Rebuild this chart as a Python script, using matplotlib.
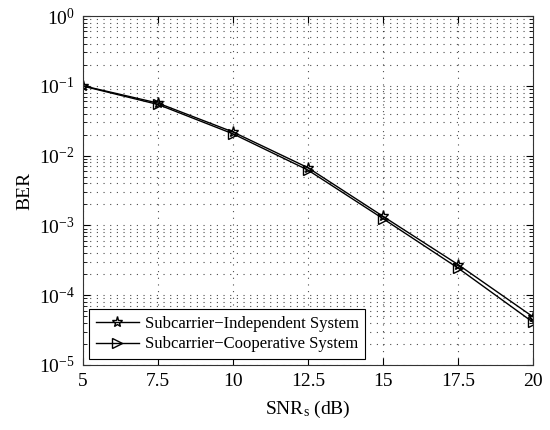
import numpy as np
import matplotlib
matplotlib.use('Agg')
import matplotlib.pyplot as plt
from matplotlib import rcParams
from matplotlib.ticker import LogLocator, NullFormatter

rcParams['font.family'] = 'serif'
rcParams['font.serif'] = ['Liberation Serif', 'DejaVu Serif']
rcParams['mathtext.fontset'] = 'custom'
rcParams['mathtext.rm'] = 'Liberation Serif'
rcParams['mathtext.it'] = 'Liberation Serif:italic'
rcParams['mathtext.default'] = 'regular'
rcParams['font.size'] = 14

# SNR points (dB) and BER for both systems
snr = [5, 7.5, 10, 12.5, 15, 17.5, 20]
ber_indep = [0.100, 0.0565, 0.0218, 0.0067, 0.00135, 2.75e-4, 4.9e-5]
ber_coop = [0.099, 0.0540, 0.0205, 0.0062, 0.00125, 2.45e-4, 4.1e-5]
labels = ['Subcarrier\u2212Independent System', 'Subcarrier\u2212Cooperative System']
xticks = [5, 7.5, 10, 12.5, 15, 17.5, 20]

fig = plt.figure(figsize=(5.5, 4.3), dpi=100)
ax = fig.add_axes([83/550, 1-365/430, 450/550, 349/430])

ax.semilogy(snr, ber_indep, '-', marker='*', color='k', lw=1.0, ms=8,
            mfc='none', mew=1.0, label=labels[0])
ax.semilogy(snr, ber_coop, '-', marker='>', color='k', lw=1.0, ms=7,
            mfc='none', mew=1.0, label=labels[1])

ax.set_xlim(5, 20)
ax.set_ylim(1e-5, 1)
ax.set_xticks(xticks)
ax.set_xticklabels(['5', '7.5', '10', '12.5', '15', '17.5', '20'])
ax.yaxis.set_major_locator(LogLocator(base=10, numticks=10))
ax.yaxis.set_minor_locator(LogLocator(base=10, subs=np.arange(2, 10), numticks=20))
ax.yaxis.set_minor_formatter(NullFormatter())

dots = (0, (1, 5))
ax.grid(True, which='major', axis='both', linestyle=dots, color='k', lw=0.8, alpha=0.7)
ax.grid(True, which='minor', axis='y', linestyle=dots, color='k', lw=0.8, alpha=0.7)
ax.tick_params(which='both', direction='in', top=True, right=True)
ax.tick_params(which='major', length=5, pad=6)
ax.tick_params(which='minor', length=3)
for s in ax.spines.values():
    s.set_color('#333333')

ax.set_xlabel(r'SNR$_{s}$ (dB)', labelpad=6)
ax.set_ylabel('BER', labelpad=4)

leg = ax.legend(loc='lower left', frameon=True, fancybox=False, framealpha=1,
                edgecolor='k', borderaxespad=0.35, handlelength=2.6,
                borderpad=0.4, labelspacing=0.3, handletextpad=0.35,
                fontsize=12)
leg.get_frame().set_linewidth(0.8)

fig.savefig('out.png', dpi=100)
